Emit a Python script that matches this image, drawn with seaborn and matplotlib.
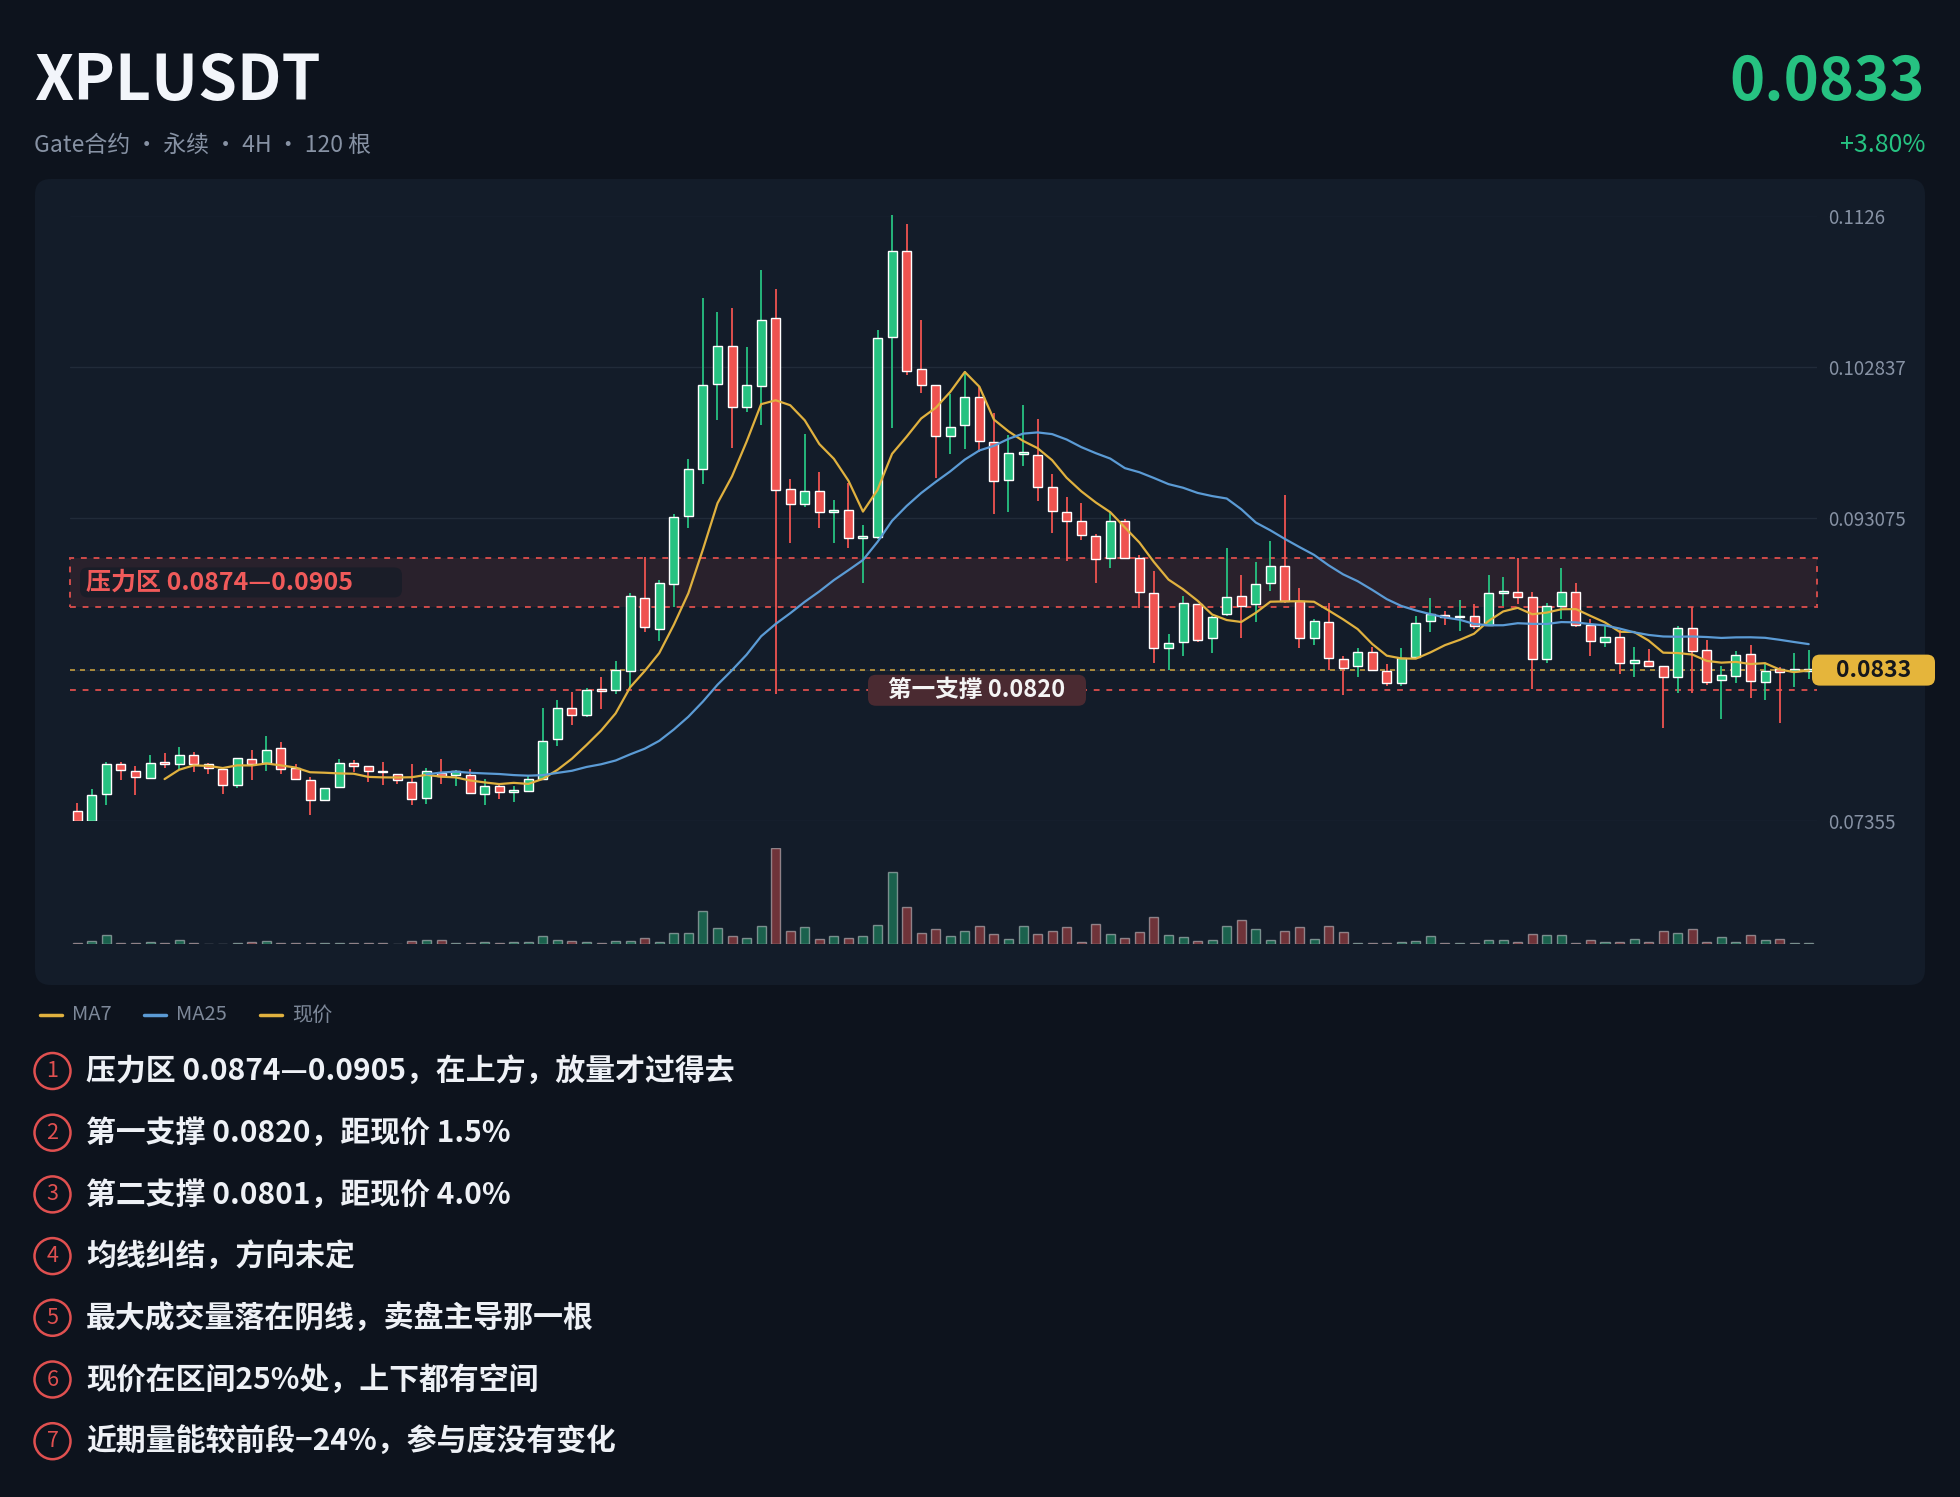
import numpy as np
import pandas as pd
import matplotlib.pyplot as plt
import seaborn as sns
from matplotlib.patches import FancyBboxPatch, Rectangle, Ellipse
from matplotlib.lines import Line2D
from matplotlib.colors import to_rgba

# header text
symbol = "XPLUSDT"
subtitle = "Gate合约 · 永续 · 4H · 120 根"
last_price_txt = "0.0833"
change_txt = "+3.80%"

# 4H candles
opens = [0.07421, 0.07359, 0.07530, 0.07724, 0.07677, 0.07634, 0.07740, 0.07724, 0.07780, 0.07727,
         0.07693, 0.07590, 0.07755, 0.07730, 0.07827, 0.07699, 0.07624, 0.07490, 0.07574, 0.07733,
         0.07709, 0.07683, 0.07662, 0.07609, 0.07506, 0.07668, 0.07652, 0.07655, 0.07534, 0.07584,
         0.07546, 0.07552, 0.07630, 0.07889, 0.08089, 0.08042, 0.08208, 0.08202, 0.08326, 0.08795,
         0.08598, 0.08888, 0.09325, 0.09628, 0.10174, 0.10417, 0.10024, 0.10158, 0.10602, 0.09497,
         0.09403, 0.09487, 0.09347, 0.09359, 0.09181, 0.09191, 0.10477, 0.11032, 0.10268, 0.10165,
         0.09837, 0.09909, 0.10090, 0.09800, 0.09556, 0.09725, 0.09715, 0.09509, 0.09347, 0.09291,
         0.09197, 0.09050, 0.09294, 0.09050, 0.08826, 0.08473, 0.08511, 0.08754, 0.08535, 0.08692,
         0.08807, 0.08754, 0.08894, 0.09004, 0.08776, 0.08535, 0.08638, 0.08404, 0.08358, 0.08448,
         0.08326, 0.08245, 0.08417, 0.08645, 0.08685, 0.08670, 0.08676, 0.08620, 0.08826, 0.08832,
         0.08801, 0.08401, 0.08745, 0.08832, 0.08620, 0.08514, 0.08542, 0.08379, 0.08389, 0.08358,
         0.08286, 0.08604, 0.08458, 0.08264, 0.08295, 0.08436, 0.08255, 0.08339, 0.08326, 0.08326]
highs = [0.07474, 0.07565, 0.07740, 0.07740, 0.07715, 0.07786, 0.07793, 0.07833, 0.07802, 0.07733,
         0.07693, 0.07765, 0.07818, 0.07905, 0.07864, 0.07724, 0.07640, 0.07568, 0.07755, 0.07749,
         0.07715, 0.07740, 0.07662, 0.07724, 0.07702, 0.07755, 0.07687, 0.07693, 0.07627, 0.07599,
         0.07584, 0.07646, 0.08083, 0.08139, 0.08192, 0.08214, 0.08286, 0.08389, 0.08826, 0.09057,
         0.08910, 0.09338, 0.09690, 0.10726, 0.10636, 0.10667, 0.10414, 0.10907, 0.10789, 0.09559,
         0.09853, 0.09606, 0.09425, 0.09534, 0.09263, 0.10524, 0.11260, 0.11204, 0.10586, 0.10165,
         0.10112, 0.10261, 0.10158, 0.09987, 0.09846, 0.10040, 0.09949, 0.09597, 0.09447, 0.09409,
         0.09207, 0.09347, 0.09306, 0.09072, 0.08972, 0.08560, 0.08807, 0.08754, 0.08682, 0.09119,
         0.08941, 0.09025, 0.09160, 0.09456, 0.08857, 0.08660, 0.08763, 0.08420, 0.08473, 0.08482,
         0.08370, 0.08473, 0.08676, 0.08795, 0.08713, 0.08782, 0.08754, 0.08941, 0.08932, 0.09050,
         0.08832, 0.08763, 0.08988, 0.08894, 0.08660, 0.08613, 0.08589, 0.08482, 0.08464, 0.08358,
         0.08613, 0.08738, 0.08526, 0.08358, 0.08451, 0.08495, 0.08370, 0.08348, 0.08442, 0.08458]
lows = [0.07355, 0.07359, 0.07459, 0.07624, 0.07527, 0.07627, 0.07702, 0.07693, 0.07671, 0.07662,
        0.07534, 0.07571, 0.07621, 0.07677, 0.07662, 0.07627, 0.07396, 0.07490, 0.07568, 0.07671,
        0.07606, 0.07590, 0.07599, 0.07459, 0.07465, 0.07599, 0.07584, 0.07537, 0.07459, 0.07502,
        0.07481, 0.07552, 0.07630, 0.07840, 0.07974, 0.08027, 0.08077, 0.08177, 0.08223, 0.08573,
        0.08520, 0.08738, 0.09244, 0.09528, 0.09940, 0.09762, 0.09993, 0.09909, 0.08177, 0.09150,
        0.09384, 0.09244, 0.09150, 0.09119, 0.08894, 0.09175, 0.09893, 0.10230, 0.10118, 0.09565,
        0.09721, 0.09753, 0.09737, 0.09338, 0.09347, 0.09643, 0.09419, 0.09213, 0.09035, 0.09169,
        0.08894, 0.08988, 0.09050, 0.08732, 0.08379, 0.08333, 0.08420, 0.08514, 0.08442, 0.08676,
        0.08535, 0.08638, 0.08838, 0.08760, 0.08473, 0.08489, 0.08333, 0.08170, 0.08286, 0.08333,
        0.08230, 0.08230, 0.08411, 0.08573, 0.08623, 0.08582, 0.08598, 0.08613, 0.08745, 0.08754,
        0.08208, 0.08379, 0.08660, 0.08607, 0.08420, 0.08482, 0.08308, 0.08286, 0.08348, 0.07958,
        0.08183, 0.08183, 0.08233, 0.08014, 0.08245, 0.08152, 0.08139, 0.07989, 0.08223, 0.08270]
closes = [0.07359, 0.07527, 0.07724, 0.07687, 0.07640, 0.07730, 0.07727, 0.07780, 0.07724, 0.07702,
          0.07590, 0.07761, 0.07724, 0.07818, 0.07693, 0.07627, 0.07490, 0.07568, 0.07730, 0.07709,
          0.07677, 0.07671, 0.07621, 0.07502, 0.07677, 0.07646, 0.07677, 0.07537, 0.07584, 0.07546,
          0.07556, 0.07630, 0.07874, 0.08083, 0.08042, 0.08202, 0.08195, 0.08333, 0.08807, 0.08607,
          0.08894, 0.09316, 0.09628, 0.10168, 0.10417, 0.10024, 0.10168, 0.10586, 0.09494, 0.09403,
          0.09487, 0.09347, 0.09359, 0.09181, 0.09191, 0.10471, 0.11032, 0.10261, 0.10168, 0.09840,
          0.09899, 0.10090, 0.09806, 0.09550, 0.09731, 0.09737, 0.09512, 0.09356, 0.09294, 0.09200,
          0.09044, 0.09291, 0.09050, 0.08832, 0.08473, 0.08504, 0.08763, 0.08526, 0.08670, 0.08801,
          0.08745, 0.08888, 0.09004, 0.08776, 0.08535, 0.08645, 0.08411, 0.08342, 0.08448, 0.08333,
          0.08248, 0.08411, 0.08635, 0.08692, 0.08670, 0.08682, 0.08613, 0.08826, 0.08838, 0.08801,
          0.08401, 0.08745, 0.08832, 0.08620, 0.08520, 0.08542, 0.08379, 0.08392, 0.08358, 0.08286,
          0.08604, 0.08451, 0.08255, 0.08301, 0.08426, 0.08261, 0.08326, 0.08317, 0.08333, 0.08330]
volumes = [3, 6, 18, 2, 2, 5, 2, 9, 2, 1, 1, 2, 5, 6, 2, 2, 3, 2, 2, 2,
           2, 2, 1, 6, 8, 8, 2, 2, 4, 2, 4, 4, 17, 9, 6, 4, 3, 6, 7, 12,
           5, 23, 23, 68, 33, 16, 12, 36, 196, 27, 35, 10, 16, 12, 17, 39, 148, 76, 22, 31,
           17, 26, 36, 20, 11, 36, 21, 26, 35, 5, 41, 20, 12, 25, 56, 19, 15, 6, 8, 36,
           50, 31, 9, 27, 34, 10, 37, 25, 2, 2, 3, 4, 7, 17, 2, 3, 2, 9, 9, 4,
           21, 18, 18, 3, 8, 4, 4, 11, 5, 27, 23, 31, 4, 14, 4, 18, 8, 10, 2, 2]

resist_lo, resist_hi = 0.0874, 0.0905
support1 = 0.0820
resist_label = "压力区 0.0874—0.0905"
support_label = "第一支撑 0.0820"
legend_names = ["MA7", "MA25", "现价"]
notes = [
    "压力区 0.0874—0.0905，在上方，放量才过得去",
    "第一支撑 0.0820，距现价 1.5%",
    "第二支撑 0.0801，距现价 4.0%",
    "均线纠结，方向未定",
    "最大成交量落在阴线，卖盘主导那一根",
    "现价在区间25%处，上下都有空间",
    "近期量能较前段−24%，参与度没有变化",
]

W, H = 1960, 1497
BG = "#0d131d"
PANEL = "#131c29"
GREEN = "#26c281"
RED = "#ef5350"
GOLD = "#e0b13f"
BLUE = "#5b9bd5"
GRID = "#212b39"
MUTED = "#8792a4"

sns.set_theme(style="dark", rc={"axes.facecolor": "none", "figure.facecolor": BG})
plt.rcParams["font.family"] = ["Noto Sans CJK SC", "DejaVu Sans"]


def fx(px):
    return px / W


def fy(py):
    return 1 - py / H


df = pd.DataFrame({"open": opens, "high": highs, "low": lows, "close": closes, "vol": volumes})
df["i"] = np.arange(len(df))
df["ma7"] = df["close"].rolling(7).mean()
df["ma25"] = df["close"].rolling(25).mean()
n = len(df)

fig = plt.figure(figsize=(W / 100, H / 100), dpi=100, facecolor=BG)
fig.add_artist(FancyBboxPatch((fx(35), fy(985)), fx(1925) - fx(35), fy(179) - fy(985),
                              boxstyle="round,pad=0,rounding_size=0.008", mutation_aspect=W / H,
                              transform=fig.transFigure, fc=PANEL, ec="none", zorder=-1))

ax = fig.add_axes([fx(70), fy(821.4), fx(1817) - fx(70), fy(215.5) - fy(821.4)])
axv = fig.add_axes([fx(70), fy(944), fx(1817) - fx(70), 96 / H], sharex=ax)

# candles
up = df["close"] >= df["open"]
cols = np.where(up, GREEN, RED)
ax.vlines(df["i"], df["low"], df["high"], colors=cols, lw=1.3, zorder=3, clip_on=False)
body_lo = np.minimum(df["open"], df["close"])
body_h = np.maximum((df["close"] - df["open"]).abs(), 0.00012)
ax.bar(df["i"], body_h, bottom=body_lo, width=0.62, color=cols, zorder=4)

sns.lineplot(x=df["i"], y=df["ma7"], ax=ax, color=GOLD, lw=1.6, zorder=5)
sns.lineplot(x=df["i"], y=df["ma25"], ax=ax, color=BLUE, lw=1.6, zorder=5)

lo, hi = min(lows), max(highs)
ax.set_xlim(-0.5, n - 0.43)
ax.set_ylim(lo, hi)
levels = np.linspace(lo, hi, 5)
ax.set_yticks(levels)
# the grid level next to the last price sits under the price badge
ax.set_yticklabels(["" if abs(v - closes[-1]) < 0.0005 else f"{v:.6f}".rstrip("0") for v in levels])
ax.yaxis.tick_right()
ax.tick_params(axis="y", length=0, pad=8, labelsize=13.5, labelcolor=MUTED)
ax.tick_params(axis="x", length=0, labelbottom=False)
ax.grid(axis="y", color=GRID, lw=1)
ax.grid(axis="x", visible=False)
ax.set_xlabel("")
ax.set_ylabel("")
for s in ax.spines.values():
    s.set_visible(False)

# resistance zone + support lines
x0, x1 = ax.get_xlim()
ax.add_patch(Rectangle((x0, resist_lo), x1 - x0, resist_hi - resist_lo,
                       fc=to_rgba(RED, 0.10), ec=to_rgba(RED, 0.85), ls=(0, (3, 3.5)), lw=1.4,
                       zorder=1, clip_on=False))
ax.axhline(closes[-1], color=GOLD, ls=(0, (3, 3)), lw=1.2, alpha=0.85, zorder=2)
ax.axhline(support1, color=RED, ls=(0, (3, 3.5)), lw=1.4, alpha=0.85, zorder=2)

# volume
axv.bar(df["i"], df["vol"], width=0.62, color=cols, alpha=0.42)
axv.set_ylim(0, max(volumes))
axv.axis("off")

to_fig = fig.transFigure.inverted()


def price_to_fy(p):
    return to_fig.transform(ax.transData.transform((0, p)))[1]


def label_box(xa, xb, price, hpx, color):
    yc = price_to_fy(price)
    hh = hpx / H
    fig.add_artist(FancyBboxPatch((fx(xa), yc - hh / 2), fx(xb) - fx(xa), hh,
                                  boxstyle="round,pad=0,rounding_size=0.004", mutation_aspect=W / H,
                                  transform=fig.transFigure, fc=color, ec="none", zorder=6))
    return yc


yc = label_box(80, 402, (resist_lo + resist_hi) / 2, 30, "#1a1d28")
fig.text(fx(86), yc, resist_label, color="#f05a5a", fontsize=18, weight="bold",
         ha="left", va="center", zorder=7)
yc = label_box(868, 1086, support1, 31, "#4a2a31")
fig.text(fx(977), yc, support_label, color="#f4f4f4", fontsize=17, weight="bold",
         ha="center", va="center", zorder=7)
yc = label_box(1812, 1935, closes[-1], 31, "#e5b53b")
fig.text(fx(1873.5), yc, last_price_txt, color="#15171c", fontsize=16.5, weight="bold",
         ha="center", va="center", zorder=7)

# header
fig.text(fx(34), fy(100), symbol, color="#f2f5fa", fontsize=45, weight="bold", va="baseline")
fig.text(fx(1925), fy(100), last_price_txt, color=GREEN, fontsize=43, weight="bold",
         ha="right", va="baseline")
fig.text(fx(34), fy(145), subtitle, color=MUTED, fontsize=16.5, va="center")
fig.text(fx(1925), fy(145), change_txt, color=GREEN, fontsize=18, ha="right", va="center")

# legend row
for (lx, name, c) in zip([40, 144, 260], legend_names, [GOLD, BLUE, GOLD]):
    fig.add_artist(Line2D([fx(lx), fx(lx + 22)], [fy(1015), fy(1015)], transform=fig.transFigure,
                          color=c, lw=2.5))
    fig.text(fx(lx + 32), fy(1015), name, color="#7d8899", fontsize=14.5, va="center")

# numbered notes
for k, note in enumerate(notes):
    yc = fy(1071 + k * 61.7)
    fig.add_artist(Ellipse((fx(52.5), yc), 36 / W, 36 / H, transform=fig.transFigure,
                           fill=False, ec="#e05050", lw=1.8))
    fig.text(fx(52.5), yc, str(k + 1), color="#e05050", fontsize=15.5, ha="center", va="center")
    fig.text(fx(86), yc, note, color="#eef1f6", fontsize=21.5, weight="bold", va="center")

fig.savefig("out.png", dpi=100, facecolor=BG)
